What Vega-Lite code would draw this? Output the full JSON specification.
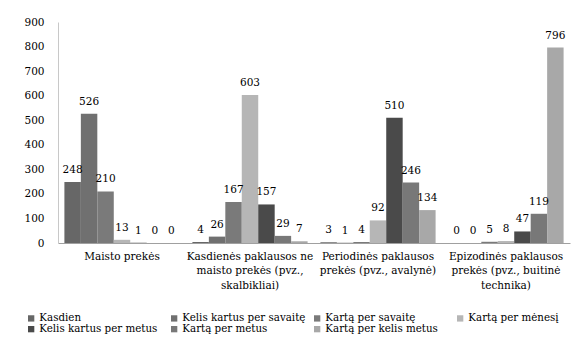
{
  "$schema": "https://vega.github.io/schema/vega-lite/v6.json",
  "width": 512,
  "height": 221,
  "autosize": {"type": "none"},
  "padding": {"left": 58, "top": 22, "right": 13, "bottom": 96},
  "background": "white",
  "config": {
    "font": "DejaVu Serif",
    "view": {"stroke": null},
    "axis": {"labelFont": "DejaVu Serif", "labelFontSize": 10.5, "labelColor": "#000000"},
    "legend": {"labelFont": "DejaVu Serif", "labelFontSize": 10.3, "labelColor": "#000000"}
  },
  "data": {
    "values": [
      {"category": "Maisto prekės", "series": "Kasdien", "value": 248},
      {"category": "Maisto prekės", "series": "Kelis kartus per savaitę", "value": 526},
      {"category": "Maisto prekės", "series": "Kartą per savaitę", "value": 210},
      {"category": "Maisto prekės", "series": "Kartą per mėnesį", "value": 13},
      {"category": "Maisto prekės", "series": "Kelis kartus per metus", "value": 1},
      {"category": "Maisto prekės", "series": "Kartą per metus", "value": 0},
      {"category": "Maisto prekės", "series": "Kartą per kelis metus", "value": 0},
      {"category": "Kasdienės paklausos ne maisto prekės (pvz., skalbikliai)", "series": "Kasdien", "value": 4},
      {"category": "Kasdienės paklausos ne maisto prekės (pvz., skalbikliai)", "series": "Kelis kartus per savaitę", "value": 26},
      {"category": "Kasdienės paklausos ne maisto prekės (pvz., skalbikliai)", "series": "Kartą per savaitę", "value": 167},
      {"category": "Kasdienės paklausos ne maisto prekės (pvz., skalbikliai)", "series": "Kartą per mėnesį", "value": 603},
      {"category": "Kasdienės paklausos ne maisto prekės (pvz., skalbikliai)", "series": "Kelis kartus per metus", "value": 157},
      {"category": "Kasdienės paklausos ne maisto prekės (pvz., skalbikliai)", "series": "Kartą per metus", "value": 29},
      {"category": "Kasdienės paklausos ne maisto prekės (pvz., skalbikliai)", "series": "Kartą per kelis metus", "value": 7},
      {"category": "Periodinės paklausos prekės (pvz., avalynė)", "series": "Kasdien", "value": 3},
      {"category": "Periodinės paklausos prekės (pvz., avalynė)", "series": "Kelis kartus per savaitę", "value": 1},
      {"category": "Periodinės paklausos prekės (pvz., avalynė)", "series": "Kartą per savaitę", "value": 4},
      {"category": "Periodinės paklausos prekės (pvz., avalynė)", "series": "Kartą per mėnesį", "value": 92},
      {"category": "Periodinės paklausos prekės (pvz., avalynė)", "series": "Kelis kartus per metus", "value": 510},
      {"category": "Periodinės paklausos prekės (pvz., avalynė)", "series": "Kartą per metus", "value": 246},
      {"category": "Periodinės paklausos prekės (pvz., avalynė)", "series": "Kartą per kelis metus", "value": 134},
      {"category": "Epizodinės paklausos prekės (pvz., buitinė technika)", "series": "Kasdien", "value": 0},
      {"category": "Epizodinės paklausos prekės (pvz., buitinė technika)", "series": "Kelis kartus per savaitę", "value": 0},
      {"category": "Epizodinės paklausos prekės (pvz., buitinė technika)", "series": "Kartą per savaitę", "value": 5},
      {"category": "Epizodinės paklausos prekės (pvz., buitinė technika)", "series": "Kartą per mėnesį", "value": 8},
      {"category": "Epizodinės paklausos prekės (pvz., buitinė technika)", "series": "Kelis kartus per metus", "value": 47},
      {"category": "Epizodinės paklausos prekės (pvz., buitinė technika)", "series": "Kartą per metus", "value": 119},
      {"category": "Epizodinės paklausos prekės (pvz., buitinė technika)", "series": "Kartą per kelis metus", "value": 796}
    ]
  },
  "encoding": {
    "x": {
      "field": "category",
      "type": "nominal",
      "sort": null,
      "scale": {"paddingInner": 0.1, "paddingOuter": 0.05},
      "axis": {
        "title": null,
        "labelAngle": 0,
        "ticks": false,
        "domainColor": "#a0a0a0",
        "domainWidth": 1,
        "labelPadding": 8,
        "labelBaseline": "top",
        "labelLineHeight": 14.5,
        "labelLimit": 200,
        "labelExpr": "datum.value == 'Maisto prekės' ? 'Maisto prekės' : datum.value == 'Kasdienės paklausos ne maisto prekės (pvz., skalbikliai)' ? ['Kasdienės paklausos ne', 'maisto prekės (pvz.,', 'skalbikliai)'] : datum.value == 'Periodinės paklausos prekės (pvz., avalynė)' ? ['Periodinės paklausos', 'prekės (pvz., avalynė)'] : ['Epizodinės paklausos', 'prekės (pvz., buitinė', 'technika)']"
      }
    },
    "xOffset": {
      "field": "series",
      "type": "nominal",
      "scale": {"domain": ["Kasdien", "Kelis kartus per savaitę", "Kartą per savaitę", "Kartą per mėnesį", "Kelis kartus per metus", "Kartą per metus", "Kartą per kelis metus"], "paddingInner": 0, "paddingOuter": 0}
    },
    "y": {
      "field": "value",
      "type": "quantitative",
      "scale": {"domain": [0, 900]},
      "axis": {
        "title": null,
        "values": [0, 100, 200, 300, 400, 500, 600, 700, 800, 900],
        "grid": false,
        "ticks": false,
        "domainColor": "#c8c8c8",
        "labelPadding": 14
      }
    }
  },
  "layer": [
    {
      "mark": {"type": "bar"},
      "encoding": {
        "color": {
          "field": "series",
          "type": "nominal",
          "scale": {
            "domain": ["Kasdien", "Kelis kartus per savaitę", "Kartą per savaitę", "Kartą per mėnesį", "Kelis kartus per metus", "Kartą per metus", "Kartą per kelis metus"],
            "range": ["#676767", "#707070", "#7a7a7a", "#b6b6b6", "#4a4a4a", "#787878", "#a8a8a8"]
          },
          "legend": {
            "title": null,
            "orient": "none",
            "legendX": -32,
            "legendY": 291,
            "direction": "horizontal",
            "columns": 4,
            "gridAlign": "all",
            "columnPadding": 6,
            "rowPadding": -1,
            "symbolType": "square",
            "symbolSize": 40,
            "symbolStrokeWidth": 0,
            "labelOffset": 3,
            "labelLimit": 200
          }
        }
      }
    },
    {
      "mark": {"type": "text", "baseline": "middle", "dy": -12, "fontSize": 10.5, "color": "#000000", "font": "DejaVu Serif"},
      "encoding": {"text": {"field": "value", "type": "quantitative"}}
    }
  ]
}
